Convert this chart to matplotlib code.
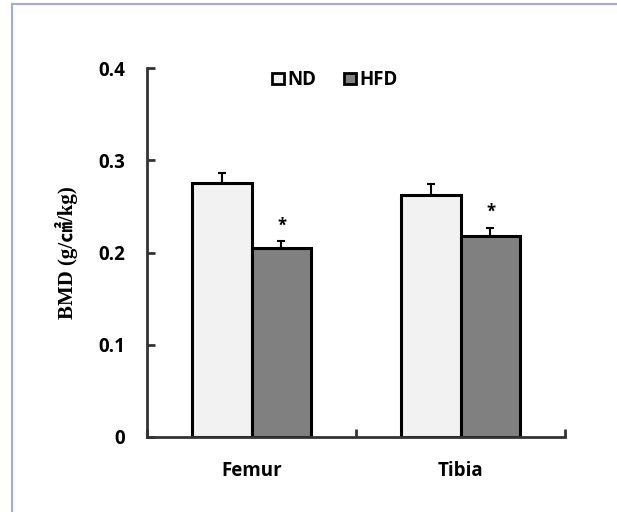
import numpy as np
import matplotlib
matplotlib.use("Agg")
import matplotlib.pyplot as plt
from matplotlib.lines import Line2D
from matplotlib.patches import Patch

# data
categories = ["Femur", "Tibia"]
groups = ["ND", "HFD"]
nd_mean = [0.275, 0.262]
nd_err = [0.011, 0.012]
hfd_mean = [0.205, 0.218]
hfd_err = [0.007, 0.009]
sig_marks = ["*", "*"]   # over HFD bars
yticks = [0, 0.1, 0.2, 0.3, 0.4]
ytick_labels = ["0", "0.1", "0.2", "0.3", "0.4"]

nd_color = "#f2f2f2"
hfd_color = "#808080"
sans = ["Open Sans", "DejaVu Sans"]

fig = plt.figure(figsize=(6.17, 5.12), dpi=100)
ax = fig.add_axes([147 / 617, 75 / 512, 418 / 617, 369 / 512])

# light frame round the picture
frame_c = "#a3acd6"
fig.add_artist(Line2D([12 / 617, 12 / 617], [0, 1 - 4 / 512], transform=fig.transFigure,
                      color=frame_c, lw=1.5))
fig.add_artist(Line2D([12 / 617, 1], [1 - 4 / 512, 1 - 4 / 512], transform=fig.transFigure,
                      color=frame_c, lw=1.5))

x = np.arange(len(categories)) + 0.5
w = 0.287
ax.bar(x - w / 2, nd_mean, w, color=nd_color, edgecolor="black", linewidth=2.2, zorder=2)
ax.bar(x + w / 2, hfd_mean, w, color=hfd_color, edgecolor="black", linewidth=2.2, zorder=2)
ax.errorbar(x - w / 2, nd_mean, yerr=[np.zeros(2), nd_err], fmt="none", ecolor="black",
            elinewidth=1.5, capsize=3, capthick=1.5, zorder=1)
ax.errorbar(x + w / 2, hfd_mean, yerr=[np.zeros(2), hfd_err], fmt="none", ecolor="black",
            elinewidth=1.5, capsize=3, capthick=1.5, zorder=1)

for xi, m, e, s in zip(x + w / 2, hfd_mean, hfd_err, sig_marks):
    ax.text(xi, m + e + 0.007, s, ha="center", va="bottom", fontsize=12,
            fontweight="bold", family=sans)

ax.set_xlim(0, 2)
ax.set_ylim(0, 0.4)
ax.spines["top"].set_visible(False)
ax.spines["right"].set_visible(False)
for sp in ["left", "bottom"]:
    ax.spines[sp].set_linewidth(2)
    ax.spines[sp].set_color("#333333")

ax.set_yticks(yticks)
ax.set_yticklabels(ytick_labels, fontsize=13.5, fontweight="bold", family=sans)
ax.set_xticks([0, 1, 2])
ax.set_xticklabels(["", "", ""])
ax.set_xticks(x, minor=True)
ax.set_xticklabels(categories, minor=True, fontsize=13.5, fontweight="bold", family=sans)
ax.tick_params(axis="x", which="minor", length=0, pad=17)
ax.tick_params(axis="both", which="major", direction="in", length=6, width=2, color="#333333")
ax.tick_params(axis="y", pad=16)

ax.set_ylabel("BMD (g/㎠/kg)", fontsize=15, fontweight="bold",
              family=["Liberation Serif", "Noto Sans CJK KR"], labelpad=14)

handles = [Patch(facecolor=nd_color, edgecolor="black", linewidth=2),
           Patch(facecolor=hfd_color, edgecolor="black", linewidth=2)]
ax.legend(handles, groups, loc="upper center", bbox_to_anchor=(0.45, 1.04), ncol=2,
          frameon=False, handlelength=0.6, handleheight=0.6, handletextpad=0.2,
          columnspacing=1.5, prop={"family": sans, "weight": "bold", "size": 13.5})

fig.savefig("out.png", dpi=100)
